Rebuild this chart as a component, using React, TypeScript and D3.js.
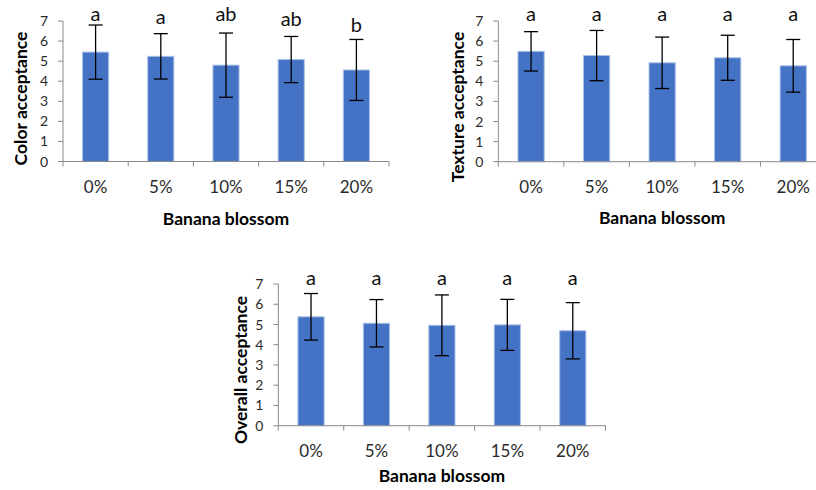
import React from "react";
import * as d3 from "d3";

// categories and axis ticks
const groups = ["0%", "5%", "10%", "15%", "20%"];
const yTicks = [0, 1, 2, 3, 4, 5, 6, 7];

// color acceptance
const colorMean = [5.45, 5.24, 4.8, 5.08, 4.56];
const colorSd = [1.35, 1.13, 1.6, 1.15, 1.52];
const colorLetters = ["a", "a", "ab", "ab", "b"];
const colorLetterAt = [7.02, 6.84, 7.0, 6.77, 6.47];

// texture acceptance
const textureMean = [5.49, 5.28, 4.92, 5.17, 4.77];
const textureSd = [0.98, 1.25, 1.28, 1.12, 1.31];
const textureLetters = ["a", "a", "a", "a", "a"];
const textureLetterAt = [7.02, 7.02, 7.02, 7.02, 7.02];

// overall acceptance
const overallMean = [5.38, 5.06, 4.96, 4.98, 4.69];
const overallSd = [1.15, 1.17, 1.5, 1.26, 1.39];
const overallLetters = ["a", "a", "a", "a", "a"];
const overallLetterAt = [6.95, 6.95, 6.95, 6.95, 6.95];

const FONT = "Lato, 'Open Sans', sans-serif";
const AXIS = "#8a8a8a";

interface PanelProps {
  mean: number[];
  sd: number[];
  letters: string[];
  letterAt: number[];
  yTitle: string;
  left: number;
  right: number;
  top: number;
  bottom: number;
  titleY: number;
  yTitleX: number;
  yTitleY: number;
}

function Panel(p: PanelProps) {
  const x = d3.scaleBand().domain(groups).range([p.left, p.right]).padding(0);
  const y = d3.scaleLinear().domain([0, 7]).range([p.bottom, p.top]);
  const bw = x.bandwidth() * 0.4;
  const bounds = d3.range(groups.length + 1).map((i) => p.left + i * x.step());

  return (
    <g>
      {/* bars */}
      {groups.map((g, i) => {
        const cx = x(g)! + x.bandwidth() / 2;
        return (
          <rect
            key={"b" + g}
            x={cx - bw / 2}
            y={y(p.mean[i])}
            width={bw}
            height={y(0) - y(p.mean[i])}
            fill="#4472c4"
            stroke="#a8bfe6"
            strokeWidth={1}
          />
        );
      })}

      {/* axes */}
      <line x1={p.left} x2={p.left} y1={y(7)} y2={y(0)} stroke={AXIS} />
      <line x1={p.left} x2={p.right} y1={y(0)} y2={y(0)} stroke={AXIS} />
      {yTicks.map((t) => (
        <g key={"yt" + t}>
          <line x1={p.left - 5} x2={p.left} y1={y(t)} y2={y(t)} stroke={AXIS} />
          <text
            x={p.left - 15}
            y={y(t)}
            dy="0.36em"
            textAnchor="end"
            fontSize={14}
            fontFamily={FONT}
            fill="#2a2a2a"
          >
            {t}
          </text>
        </g>
      ))}
      {bounds.map((bx, i) => (
        <line key={"xt" + i} x1={bx} x2={bx} y1={y(0)} y2={y(0) + 5} stroke={AXIS} />
      ))}
      {groups.map((g) => (
        <text
          key={"xl" + g}
          x={x(g)! + x.bandwidth() / 2}
          y={y(0) + 31.5}
          textAnchor="middle"
          fontSize={17}
          fontFamily={FONT}
          fill="#2a2a2a"
        >
          {g}
        </text>
      ))}

      {/* error bars */}
      {groups.map((g, i) => {
        const cx = x(g)! + x.bandwidth() / 2;
        const hi = y(p.mean[i] + p.sd[i]);
        const lo = y(p.mean[i] - p.sd[i]);
        return (
          <g key={"e" + g} stroke="#000" strokeWidth={1.3}>
            <line x1={cx} x2={cx} y1={hi} y2={lo} />
            <line x1={cx - 7} x2={cx + 7} y1={hi} y2={hi} />
            <line x1={cx - 7} x2={cx + 7} y1={lo} y2={lo} />
          </g>
        );
      })}

      {/* significance letters */}
      {groups.map((g, i) => (
        <text
          key={"l" + g}
          x={x(g)! + x.bandwidth() / 2}
          y={y(p.letterAt[i])}
          textAnchor="middle"
          fontSize={20}
          fontFamily={FONT}
          fill="#111"
        >
          {p.letters[i]}
        </text>
      ))}

      {/* titles */}
      <text
        x={(p.left + p.left + x.step() * groups.length) / 2}
        y={p.titleY}
        textAnchor="middle"
        fontSize={17.5}
        fontWeight="bold"
        fontFamily={FONT}
        fill="#000"
      >
        Banana blossom
      </text>
      <text
        transform={`translate(${p.yTitleX},${p.yTitleY}) rotate(-90)`}
        textAnchor="middle"
        fontSize={17.5}
        fontWeight="bold"
        fontFamily={FONT}
        fill="#000"
      >
        {p.yTitle}
      </text>
    </g>
  );
}

export default function App() {
  return (
    <svg
      width={816}
      height={490}
      style={{ position: "absolute", left: 0, top: 0, background: "#fff" }}
    >
      <Panel
        mean={colorMean}
        sd={colorSd}
        letters={colorLetters}
        letterAt={colorLetterAt}
        yTitle="Color acceptance"
        left={63}
        right={389}
        top={21}
        bottom={161.5}
        titleY={225}
        yTitleX={27}
        yTitleY={98.5}
      />
      <Panel
        mean={textureMean}
        sd={textureSd}
        letters={textureLetters}
        letterAt={textureLetterAt}
        yTitle="Texture acceptance"
        left={498.3}
        right={826}
        top={21}
        bottom={161.7}
        titleY={224}
        yTitleX={463.5}
        yTitleY={107}
      />
      <Panel
        mean={overallMean}
        sd={overallSd}
        letters={overallLetters}
        letterAt={overallLetterAt}
        yTitle="Overall acceptance"
        left={278.3}
        right={605.5}
        top={284}
        bottom={425.7}
        titleY={481.7}
        yTitleX={247}
        yTitleY={370}
      />
    </svg>
  );
}
